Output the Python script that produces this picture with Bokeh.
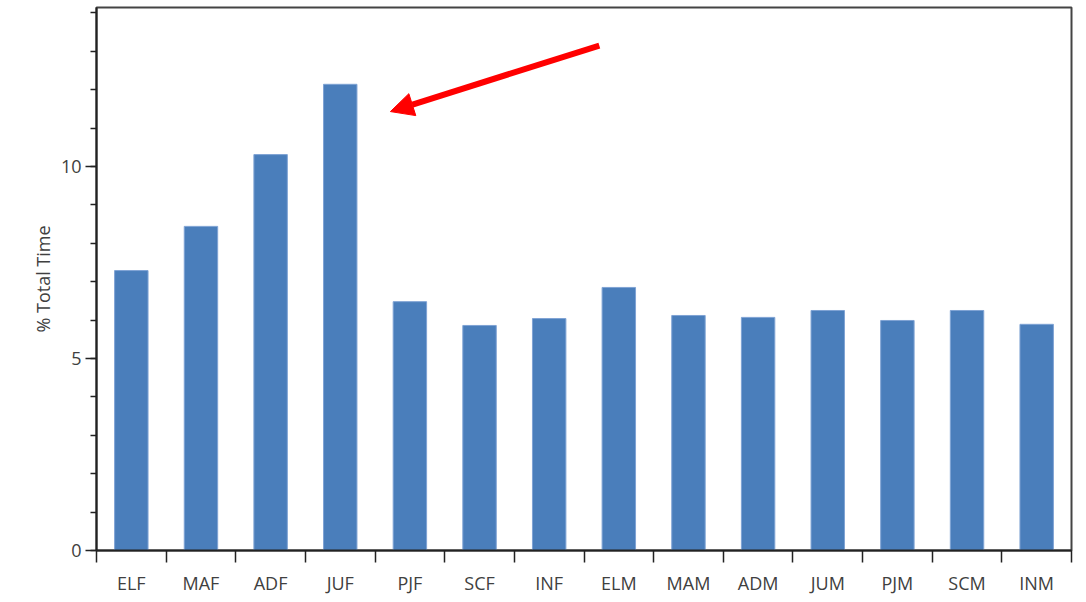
import numpy as np
from bokeh.plotting import figure
from bokeh.models import (ColumnDataSource, FixedTicker, CustomJSTickFormatter,
                          Range1d, Arrow, NormalHead, BoxAnnotation)
from bokeh.embed import file_html
from bokeh.resources import INLINE

categories = ["ELF", "MAF", "ADF", "JUF", "PJF", "SCF", "INF",
              "ELM", "MAM", "ADM", "JUM", "PJM", "SCM", "INM"]
pct_total_time = [7.29, 8.44, 10.31, 12.14, 6.48, 5.86, 6.04,
                  6.85, 6.12, 6.07, 6.25, 5.99, 6.25, 5.89]
y_major_ticks = [0, 5, 10]
y_minor_ticks = list(range(0, 15))

# annotation arrow (data coordinates), pointing at JUF
arrow_start = (7.72, 13.15)
arrow_end = (4.72, 11.43)

FONT = "Open Sans"
TEXT = "#404040"

n = len(categories)
xpos = np.arange(1, n + 1)
src = ColumnDataSource(dict(x=xpos, top=pct_total_time, name=categories))

p = figure(frame_width=975, frame_height=543,
           min_border_left=96, min_border_right=15,
           min_border_top=7, min_border_bottom=45,
           x_range=Range1d(0.5, n + 0.5), y_range=Range1d(0, 14.14),
           output_backend="svg", toolbar_location=None,
           background_fill_color="white", border_fill_color="white")

# page side strip (screen units are relative to the frame)
p.add_layout(BoxAnnotation(left=-96, right=-83, top=-7, bottom=600,
                           left_units="screen", right_units="screen",
                           top_units="screen", bottom_units="screen",
                           fill_color="#e6f0f3", fill_alpha=1, line_alpha=0,
                           level="underlay"))

p.vbar(x="x", top="top", width=0.48, source=src,
       fill_color="#4a7ebb", line_color="#7fa3d4", line_width=1)

p.xgrid.visible = False
p.ygrid.visible = False
p.outline_line_color = "#444444"
p.outline_line_width = 2

# x axis: labels at bar centres, tick marks at category boundaries
xa = p.xaxis[0]
xa.ticker = FixedTicker(ticks=list(xpos),
                        minor_ticks=list(np.arange(0.5, n + 1, 1.0)))
xa.formatter = CustomJSTickFormatter(args=dict(names=categories),
                                     code="return names[Math.round(tick) - 1];")
xa.major_tick_out = 0
xa.major_tick_in = 0
xa.minor_tick_out = 12
xa.minor_tick_in = 0
xa.minor_tick_line_color = "#222222"
xa.minor_tick_line_width = 1.5
xa.axis_line_color = "#222222"
xa.axis_line_width = 2
xa.major_label_standoff = 8
xa.major_label_text_font = FONT
xa.major_label_text_font_size = "18px"
xa.major_label_text_color = TEXT

ya = p.yaxis[0]
ya.ticker = FixedTicker(ticks=y_major_ticks, minor_ticks=y_minor_ticks)
ya.major_tick_out = 11
ya.major_tick_in = 0
ya.minor_tick_out = 6
ya.minor_tick_in = 0
ya.major_tick_line_color = "#222222"
ya.minor_tick_line_color = "#222222"
ya.major_tick_line_width = 1.5
ya.minor_tick_line_width = 1.5
ya.axis_line_color = "#222222"
ya.axis_line_width = 2
ya.major_label_standoff = 4
ya.major_label_text_font = FONT
ya.major_label_text_font_size = "18px"
ya.major_label_text_color = TEXT
ya.axis_label = "% Total Time"
ya.axis_label_text_font = FONT
ya.axis_label_text_font_size = "18px"
ya.axis_label_text_font_style = "normal"
ya.axis_label_text_color = TEXT
ya.axis_label_standoff = 3

p.add_layout(Arrow(end=NormalHead(size=23, fill_color="red", line_color="red"),
                   x_start=arrow_start[0], y_start=arrow_start[1],
                   x_end=arrow_end[0], y_end=arrow_end[1],
                   line_color="red", line_width=6, line_cap="butt"))

open("out.html", "w").write(file_html(p, INLINE))
